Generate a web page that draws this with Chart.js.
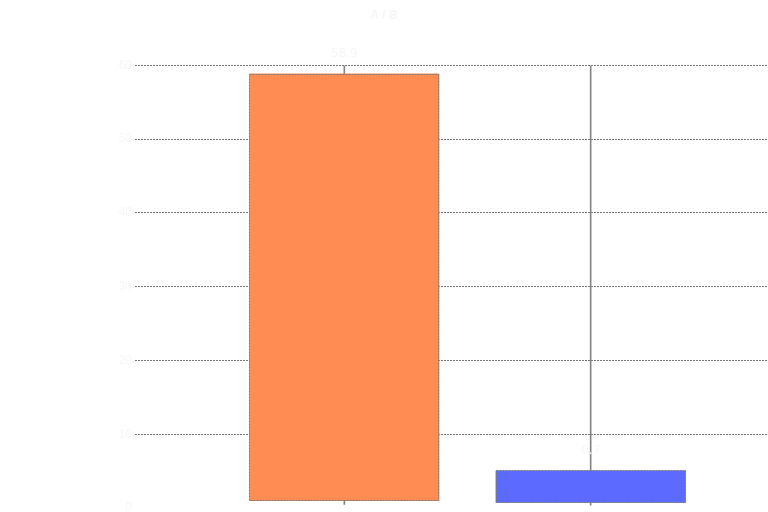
<!DOCTYPE html>
<html>
<head>
<meta charset="utf-8">
<script src="https://cdn.jsdelivr.net/npm/chart.js@4/dist/chart.umd.min.js"></script>
<style>
html,body{margin:0;padding:0;background:#fff;}
#wrap{width:768px;height:512px;}
</style>
</head>
<body>
<div id="wrap"><canvas id="c" width="768" height="512"></canvas></div>
<script>
const categories = ['A', 'B'];
const xPositions = [1, 2];
const opens  = [0.95, 5.1];
const closes = [58.9, 0.7];
const highs  = [60, 60];
const lows   = [0.5, 0.4];
const yTicks = [0, 10, 20, 30, 40, 50, 60];

const bodyColors = ['#FF8C52', '#5C6AFF'];
const faint = '#f6f6f6';

const bodyData = xPositions.map((x, i) => ({x: x, y: [Math.min(opens[i], closes[i]), Math.max(opens[i], closes[i])]}));
const wickData = xPositions.map((x, i) => ({x: x, y: [lows[i], highs[i]]}));

const dashedBorder = {
  id: 'dashedBorder',
  afterDatasetsDraw(chart) {
    const meta = chart.getDatasetMeta(1);
    const ctx = chart.ctx;
    ctx.save();
    ctx.strokeStyle = '#7a7a7a';
    ctx.lineWidth = 1;
    ctx.setLineDash([2, 1]);
    meta.data.forEach((el, i) => {
      const p = el.getProps(['x', 'y', 'base', 'width'], true);
      const l = Math.round(p.x - p.width / 2) + 0.5;
      const r = Math.round(p.x + p.width / 2) - 0.5;
      const t = Math.round(Math.min(p.y, p.base)) + 0.5;
      const b = Math.round(Math.max(p.y, p.base)) - 0.5;
      ctx.strokeRect(l, t, r - l, b - t);
      ctx.fillStyle = faint;
      ctx.font = '12px "DejaVu Sans"';
      ctx.textAlign = 'center';
      ctx.textBaseline = 'bottom';
      ctx.fillText(String(closes[i]), p.x, Math.min(p.y, p.base) - 14);
    });
    ctx.restore();
  }
};

new Chart(document.getElementById('c'), {
  type: 'bar',
  data: {
    datasets: [
      {
        label: 'High-Low',
        data: wickData,
        backgroundColor: '#858585',
        barThickness: 1,
        grouped: false,
        order: 2
      },
      {
        label: 'Open-Close',
        data: bodyData,
        backgroundColor: bodyColors,
        borderWidth: 0,
        grouped: false,
        categoryPercentage: 1,
        barPercentage: 0.772,
        order: 1
      }
    ]
  },
  options: {
    responsive: false,
    animation: false,
    layout: {padding: {top: 0, right: 0, bottom: 4, left: 0}},
    plugins: {
      legend: {display: false},
      tooltip: {enabled: false},
      title: {display: true, text: 'A / B', color: faint, font: {size: 12}, padding: {top: 8, bottom: 43}}
    },
    scales: {
      x: {
        type: 'linear',
        min: 0.15,
        max: 2.72,
        offset: false,
        display: false,
        afterBuildTicks(scale) { scale.ticks = xPositions.map(v => ({value: v})); }
      },
      y: {
        min: 0,
        max: 60,
        afterBuildTicks(scale) { scale.ticks = yTicks.map(v => ({value: v})); },
        afterFit(scale) { scale.width = 135; scale.paddingBottom = 0; },
        ticks: {color: faint},
        border: {display: false, dash: [2, 1]},
        grid: {
          drawTicks: false,
          color: ctx => ctx.tick && ctx.tick.value === 0 ? 'rgba(0,0,0,0)' : '#777'
        }
      }
    }
  },
  plugins: [dashedBorder]
});
</script>
</body>
</html>
